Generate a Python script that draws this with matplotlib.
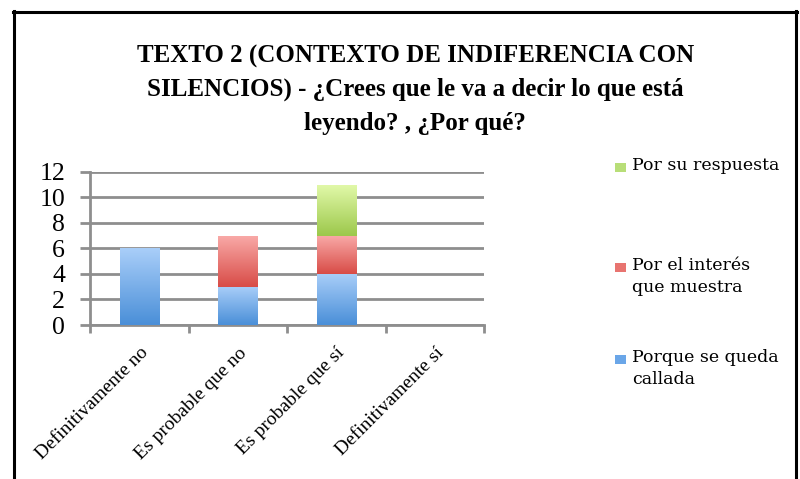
import matplotlib
matplotlib.use("Agg")
import matplotlib.pyplot as plt
import numpy as np
from matplotlib.colors import LinearSegmentedColormap
from matplotlib.lines import Line2D
from matplotlib.patches import Rectangle

categories = ["Definitivamente no", "Es probable que no", "Es probable que sí", "Definitivamente sí"]
callada = [6, 3, 4, 0]
interes = [0, 4, 3, 0]
respuesta = [0, 0, 4, 0]
yticks = [0, 2, 4, 6, 8, 10, 12]
title = "TEXTO 2 (CONTEXTO DE INDIFERENCIA CON\nSILENCIOS) - ¿Crees que le va a decir lo que está\nleyendo? , ¿Por qué?"

grads = [("#4a8fd8", "#a9cef9"), ("#d84c47", "#f9aaa8"), ("#9cc84b", "#e2f9aa")]
legend_cols = ["#6aa6e8", "#e87470", "#b8de78"]

plt.rcParams['font.family'] = ['Liberation Serif', 'DejaVu Serif']

fig = plt.figure(figsize=(8, 4.79), dpi=100)
ax = fig.add_axes([0.1125, 0.3215, 0.4925, 0.3195])

x = np.arange(len(categories))
bottom = np.zeros(len(categories))
grid_color = "#8e8e8e"
for vals, (c0, c1) in zip([callada, interes, respuesta], grads):
    bars = ax.bar(x, vals, width=0.4, bottom=bottom, facecolor="none", edgecolor="none", zorder=3)
    cmap = LinearSegmentedColormap.from_list("g", [c0, c1])
    for b in bars:
        if b.get_height() <= 0:
            continue
        x0, y0 = b.get_x(), b.get_y()
        w, h = b.get_width(), b.get_height()
        img = ax.imshow(np.linspace(0, 1, 100).reshape(-1, 1), cmap=cmap, origin="lower",
                        extent=[x0, x0 + w, y0, y0 + h], aspect="auto", zorder=3)
        img.set_clip_path(b)
    bottom += np.array(vals)

ax.set_xlim(-0.5, len(categories) - 0.5)
ax.set_ylim(0, 12)
ax.set_yticks(yticks)
ax.set_yticklabels([str(v) for v in yticks], fontsize=18.5)
ax.yaxis.grid(True, color=grid_color, linewidth=2, zorder=0)
ax.set_axisbelow(True)
ax.tick_params(axis='y', length=7, width=2, color=grid_color, pad=11)

ax.set_xticks(np.arange(-0.5, len(categories)))
ax.set_xticklabels([])
ax.set_xticks(x, minor=True)
ax.set_xticklabels(categories, minor=True, rotation=45, ha="right", rotation_mode="anchor", fontsize=14)
ax.tick_params(axis='x', which='major', length=6, width=2, color=grid_color)
ax.tick_params(axis='x', which='minor', length=0, pad=14)

for s in ["top", "right"]:
    ax.spines[s].set_visible(False)
for s in ["left", "bottom"]:
    ax.spines[s].set_color(grid_color)
    ax.spines[s].set_linewidth(2)

fig.text(0.519, 0.907, title, ha="center", va="top", fontsize=18, fontweight="bold",
         linespacing=1.57)

# Legend
leg_items = [("Por su respuesta", legend_cols[2], 168),
             ("Por el interés\nque muestra", legend_cols[1], 268),
             ("Porque se queda\ncallada", legend_cols[0], 360)]
H = 479.0
for lab, col, ypx in leg_items:
    fig.add_artist(Rectangle((615 / 800, 1 - (ypx + 4) / H), 11 / 800, 9 / H,
                             facecolor=col, edgecolor="none", transform=fig.transFigure))
    fig.text(632 / 800, 1 - (ypx - 11) / H, lab, ha="left", va="top", fontsize=12.5,
             family=["DejaVu Serif"], linespacing=1.4)

# border
fig.add_artist(Line2D([14.5 / 800, 14.5 / 800], [0, 1 - 11 / H], color="black", lw=2.2, transform=fig.transFigure))
fig.add_artist(Line2D([13 / 800, 797 / 800], [1 - 11.5 / H, 1 - 11.5 / H], color="black", lw=2.2, transform=fig.transFigure))
fig.add_artist(Line2D([796 / 800, 796 / 800], [0, 1 - 11 / H], color="black", lw=2.2, transform=fig.transFigure))

fig.savefig("out.png", dpi=100)
